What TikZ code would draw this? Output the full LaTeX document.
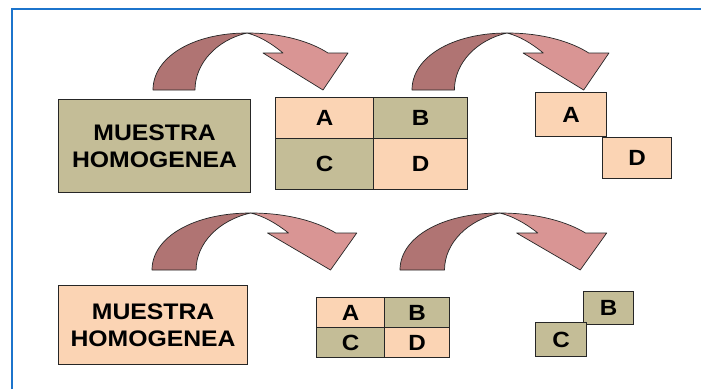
\documentclass[tikz,border=0pt]{standalone}
\usepackage{fontspec}
\setmainfont{Liberation Sans}[FakeStretch=1.1]
\definecolor{khaki}{HTML}{C4BD97}
\definecolor{peach}{HTML}{FBD4B4}
\definecolor{arrdark}{HTML}{B07473}
\definecolor{arrlight}{HTML}{D99594}
\definecolor{frameblue}{HTML}{1C74CC}
\definecolor{edge}{HTML}{262626}
\tikzset{
  cell/.style={draw=edge, line width=1.2pt, anchor=north west, inner sep=0pt,
    font=\fontsize{22}{26}\selectfont\bfseries},
  bigbox/.style={cell, align=center, font=\fontsize{22.5}{27}\selectfont\bfseries},
  arrpart/.style={draw=edge, line width=0.7pt, line join=round},
}
\newcommand{\curvedarrow}[3]{%
  \begin{scope}[shift={(#1,#2)}, xscale=#3]
    \fill[arrdark] (0,0) .. controls (0,-33) and (40,-57) .. (94,-57)
       .. controls (64,-50) and (42,-27) .. (42,0) -- cycle;
    \draw[arrpart] (0,0) .. controls (0,-33) and (40,-57) .. (94,-57)
       .. controls (64,-50) and (42,-27) .. (42,0) -- cycle;
    \fill[arrlight] (94,-57) .. controls (130,-57) and (158,-48) .. (175,-37)
       -- (195,-37) -- (170,0) -- (110,-37) -- (130,-37)
       .. controls (118,-47) and (106,-54) .. (94,-57) -- cycle;
    \draw[arrpart] (94,-57) .. controls (130,-57) and (158,-48) .. (175,-37)
       -- (195,-37) -- (170,0) -- (110,-37) -- (130,-37)
       .. controls (118,-47) and (106,-54) .. (94,-57) -- cycle;
  \end{scope}}
\begin{document}
\begin{tikzpicture}[x=1pt,y=-1pt]
\useasboundingbox (0,0) rectangle (701,389);
\fill[white] (0,0) rectangle (701,389);
\draw[frameblue, line width=2pt] (12,389) -- (12,9) -- (701,9);

% top row
\node[bigbox, fill=khaki, minimum width=192pt, minimum height=93pt] (m1) at (58,99) {MUESTRA\\HOMOGENEA};
\node[cell, fill=peach, minimum width=98pt, minimum height=41pt] (a1) at (275,97) {A};
\node[cell, fill=khaki, minimum width=94pt, minimum height=41pt] (b1) at (373,97) {B};
\node[cell, fill=khaki, minimum width=98pt, minimum height=51pt] (c1) at (275,138) {C};
\node[cell, fill=peach, minimum width=94pt, minimum height=51pt] (d1) at (373,138) {D};
\node[cell, fill=peach, minimum width=71pt, minimum height=44pt] (a2) at (535,92) {A};
\node[cell, fill=peach, minimum width=69pt, minimum height=41pt] (d2) at (602,137) {D};

% bottom row
\node[bigbox, fill=peach, minimum width=189pt, minimum height=79pt] (m2) at (58,285) {MUESTRA\\HOMOGENEA};
\node[cell, fill=peach, minimum width=68pt, minimum height=30pt] (a3) at (316,297) {A};
\node[cell, fill=khaki, minimum width=65pt, minimum height=30pt] (b3) at (384,297) {B};
\node[cell, fill=khaki, minimum width=68pt, minimum height=30pt] (c3) at (316,327) {C};
\node[cell, fill=peach, minimum width=65pt, minimum height=30pt] (d3) at (384,327) {D};
\node[cell, fill=khaki, minimum width=50pt, minimum height=33pt] (b4) at (583,291) {B};
\node[cell, fill=khaki, minimum width=51pt, minimum height=34pt] (c4) at (535,322) {C};

% curved arrows
\curvedarrow{153}{90}{1}
\curvedarrow{412}{90}{1.01}
\curvedarrow{152}{270}{1.05}
\curvedarrow{400}{270}{1.06}
\end{tikzpicture}
\end{document}
